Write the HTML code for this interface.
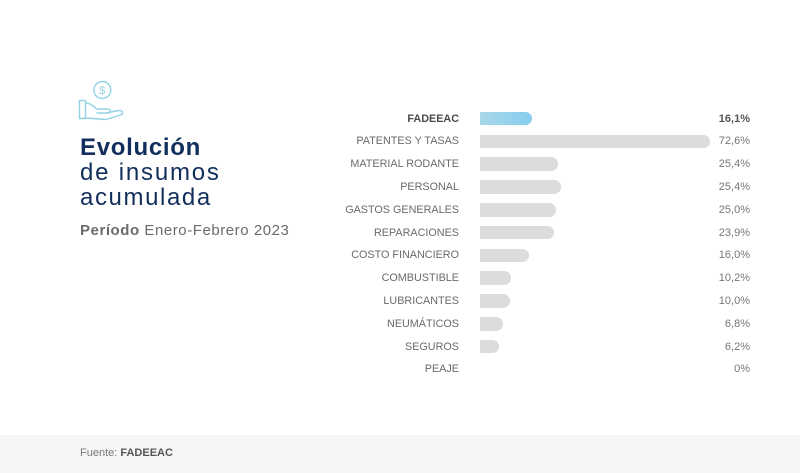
<!DOCTYPE html>
<html>
<head>
<meta charset="utf-8">
<style>
  html,body{margin:0;padding:0;}
  body{width:800px;height:473px;position:relative;background:#fff;overflow:hidden;font-family:"Liberation Sans",sans-serif;}
  .t{position:absolute;left:80px;color:#112e5c;font-size:24px;line-height:24px;white-space:nowrap;}
  .lbl{position:absolute;right:341px;font-size:10.8px;color:#6a6a6a;white-space:nowrap;line-height:14px;}
  .val{position:absolute;right:50px;font-size:11px;color:#777;white-space:nowrap;line-height:14px;}
  .bar{position:absolute;left:480px;height:13.5px;background:#dcdcdc;border-radius:0 7px 7px 0;}
  .footer{position:absolute;left:0;top:435px;width:800px;height:38px;background:#f6f6f6;}
</style>
</head>
<body>
<svg style="position:absolute;left:0;top:0" width="140" height="130">
  <g fill="none" stroke="#93d3e3" stroke-width="1.4" stroke-linejoin="round" stroke-linecap="round">
    <circle cx="102.3" cy="90" r="8.5"/>
    <rect x="79.5" y="100.5" width="6" height="18"/>
    <path d="M85.5 103 C90 103 93 106 97 109 L108 109 C111 109 111 113 108 113 L97 113"/>
    <path d="M108 112.5 L119 110.5 C123 110 124 114 120.5 115 L106 119.5 L85.5 118"/>
  </g>
  <text x="102.3" y="94" font-family="Liberation Sans, sans-serif" font-size="11" fill="#93d3e3" text-anchor="middle">$</text>
</svg>

<div class="t" style="top:136px;font-weight:bold;letter-spacing:0.7px;">Evolución</div>
<div class="t" style="top:161px;letter-spacing:1.8px;">de insumos</div>
<div class="t" style="top:186px;letter-spacing:1.6px;">acumulada</div>
<div style="position:absolute;left:80px;top:222px;font-size:15px;color:#6b6b6b;white-space:nowrap;letter-spacing:0.55px;"><b>Período</b> Enero-Febrero 2023</div>

<!-- rows -->
<div class="lbl" style="top:111.5px;font-weight:bold;color:#4a4a4a;">FADEEAC</div>
<div class="bar" style="top:111.8px;width:51.5px;background:linear-gradient(90deg,#a9d8ea,#86cdee);"></div>
<div class="val" style="top:111.5px;font-weight:bold;color:#555;">16,1%</div>

<div class="lbl" style="top:134.3px;">PATENTES Y TASAS</div>
<div class="bar" style="top:134.6px;width:229.5px;"></div>
<div class="val" style="top:134.3px;">72,6%</div>

<div class="lbl" style="top:157.1px;">MATERIAL RODANTE</div>
<div class="bar" style="top:157.4px;width:78px;"></div>
<div class="val" style="top:157.1px;">25,4%</div>

<div class="lbl" style="top:179.9px;">PERSONAL</div>
<div class="bar" style="top:180.2px;width:81px;"></div>
<div class="val" style="top:179.9px;">25,4%</div>

<div class="lbl" style="top:202.7px;">GASTOS GENERALES</div>
<div class="bar" style="top:203px;width:76px;"></div>
<div class="val" style="top:202.7px;">25,0%</div>

<div class="lbl" style="top:225.5px;">REPARACIONES</div>
<div class="bar" style="top:225.8px;width:74px;"></div>
<div class="val" style="top:225.5px;">23,9%</div>

<div class="lbl" style="top:248.3px;">COSTO FINANCIERO</div>
<div class="bar" style="top:248.6px;width:49px;"></div>
<div class="val" style="top:248.3px;">16,0%</div>

<div class="lbl" style="top:271.1px;">COMBUSTIBLE</div>
<div class="bar" style="top:271.4px;width:30.5px;"></div>
<div class="val" style="top:271.1px;">10,2%</div>

<div class="lbl" style="top:293.9px;">LUBRICANTES</div>
<div class="bar" style="top:294.2px;width:30px;"></div>
<div class="val" style="top:293.9px;">10,0%</div>

<div class="lbl" style="top:316.7px;">NEUMÁTICOS</div>
<div class="bar" style="top:317px;width:22.5px;"></div>
<div class="val" style="top:316.7px;">6,8%</div>

<div class="lbl" style="top:339.5px;">SEGUROS</div>
<div class="bar" style="top:339.8px;width:19px;"></div>
<div class="val" style="top:339.5px;">6,2%</div>

<div class="lbl" style="top:362.3px;">PEAJE</div>
<div class="val" style="top:362.3px;">0%</div>

<div class="footer">
  <div style="position:absolute;left:80px;top:12px;font-size:11px;color:#777;white-space:nowrap;">Fuente: <b style="color:#555;">FADEEAC</b></div>
</div>
</body>
</html>
